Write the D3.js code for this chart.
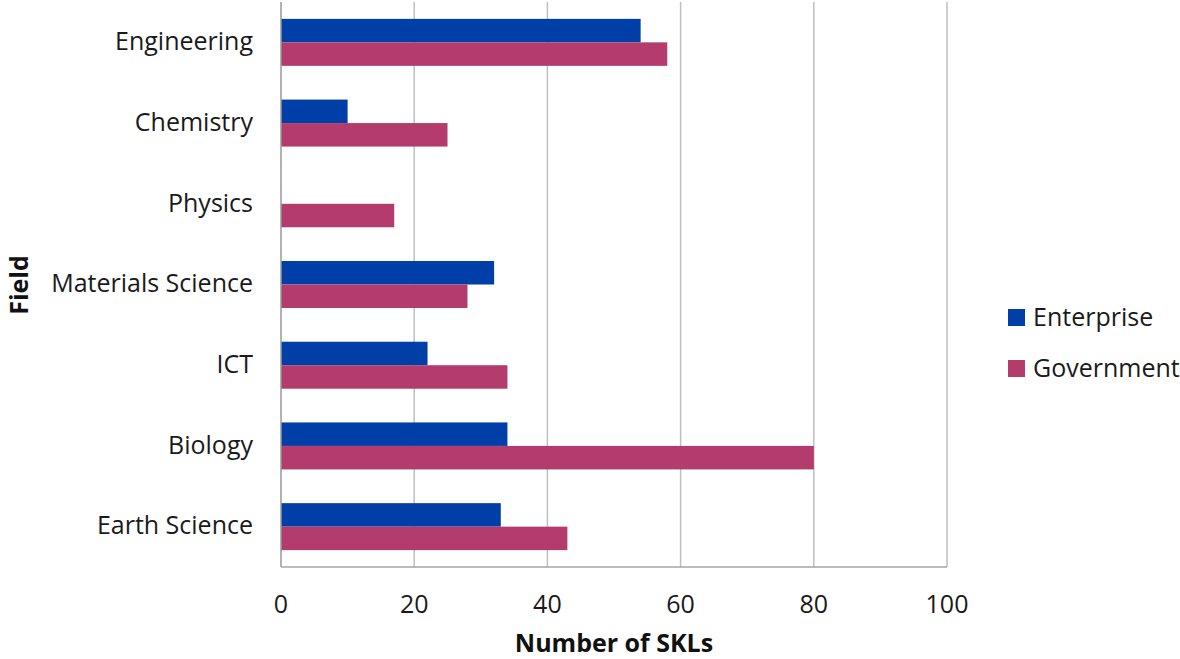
<!DOCTYPE html>
<html>
<head>
<meta charset="utf-8">
<script src="https://cdn.jsdelivr.net/npm/d3@7"></script>
<style>
  html, body { margin: 0; padding: 0; background: #fff; }
  svg { display: block; font-family: "Open Sans", "Lato", sans-serif; }
</style>
</head>
<body>
<svg id="chart" width="1180" height="659"></svg>
<script>
// Fields, top to bottom
const fields = ["Engineering", "Chemistry", "Physics", "Materials Science", "ICT", "Biology", "Earth Science"];
// Number of SKLs per field
const enterprise = [54, 10, 0, 32, 22, 34, 33];
const government = [58, 25, 17, 28, 34, 80, 43];
const seriesNames = ["Enterprise", "Government"];
const seriesColors = ["#003EA8", "#B33C6C"];
const xTicks = [0, 20, 40, 60, 80, 100];

const svg = d3.select("#chart");
const plotLeft = 281, plotRight = 947, plotTop = 2, plotBottom = 567;
const fontSize = 25;

const x = d3.scaleLinear().domain([0, 100]).range([plotLeft, plotRight]);
const y = d3.scaleBand().domain(fields).range([plotTop, plotBottom]).paddingInner(0.418).paddingOuter(0.209);
const sub = d3.scaleBand().domain(seriesNames).range([0, y.bandwidth()]);

// vertical gridlines
svg.append("g").selectAll("line").data(xTicks.filter(d => d > 0)).join("line")
  .attr("x1", d => x(d)).attr("x2", d => x(d))
  .attr("y1", plotTop).attr("y2", plotBottom)
  .attr("stroke", "#bfbfbf").attr("stroke-width", 1.5);

// bars
const rows = fields.map((f, i) => ({ field: f, values: [enterprise[i], government[i]] }));
const g = svg.append("g").selectAll("g").data(rows).join("g")
  .attr("transform", d => `translate(0,${y(d.field)})`);
g.selectAll("rect").data(d => d.values.map((v, j) => ({ v, s: seriesNames[j], c: seriesColors[j] })))
  .join("rect")
  .attr("x", x(0))
  .attr("y", d => sub(d.s))
  .attr("width", d => x(d.v) - x(0))
  .attr("height", sub.bandwidth())
  .attr("fill", d => d.c);

// axis lines
svg.append("line").attr("x1", plotLeft).attr("x2", plotRight).attr("y1", plotBottom).attr("y2", plotBottom)
  .attr("stroke", "#a6a6a6").attr("stroke-width", 1.5);
svg.append("line").attr("x1", plotLeft).attr("x2", plotLeft).attr("y1", plotTop).attr("y2", plotBottom)
  .attr("stroke", "#999").attr("stroke-width", 1.5);

// x tick labels
svg.append("g").selectAll("text").data(xTicks).join("text")
  .attr("x", d => x(d)).attr("y", 613)
  .attr("text-anchor", "middle")
  .attr("font-size", fontSize).attr("fill", "#1a1a1a")
  .text(d => d);

// y tick labels
svg.append("g").selectAll("text").data(fields).join("text")
  .attr("x", 253).attr("y", d => y(d) + y.bandwidth() / 2 - 1)
  .attr("dy", "0.35em")
  .attr("text-anchor", "end")
  .attr("font-size", fontSize).attr("fill", "#1a1a1a")
  .text(d => d);

// axis titles
svg.append("text").attr("x", 614).attr("y", 652)
  .attr("text-anchor", "middle").attr("font-size", fontSize).attr("font-weight", "bold").attr("fill", "#111")
  .text("Number of SKLs");
svg.append("text").attr("transform", "translate(28,285) rotate(-90)")
  .attr("text-anchor", "middle").attr("font-size", fontSize).attr("font-weight", "bold").attr("fill", "#111")
  .text("Field");

// legend
const leg = svg.append("g").selectAll("g").data(seriesNames).join("g")
  .attr("transform", (d, i) => `translate(1008,${309 + i * 51})`);
leg.append("rect").attr("width", 17).attr("height", 17).attr("fill", (d, i) => seriesColors[i]);
leg.append("text").attr("x", 25).attr("y", 8.5).attr("dy", "0.35em")
  .attr("font-size", fontSize).attr("fill", "#1a1a1a").text(d => d);
</script>
</body>
</html>
